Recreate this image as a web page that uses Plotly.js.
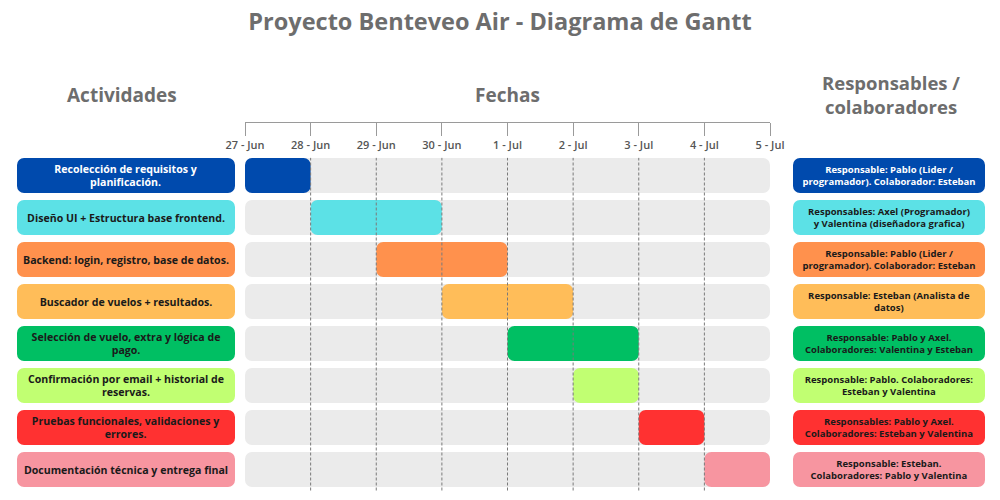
<!DOCTYPE html>
<html>
<head>
<meta charset="utf-8">
<script src="https://cdn.plot.ly/plotly-3.0.1.min.js"></script>
<style>html,body{margin:0;padding:0;background:#fff}#chart{width:1000px;height:500px}</style>
</head>
<body>
<div id="chart"></div>
<script>
// ---- data ----
const tasks = [
  "Recolección de requisitos y<br>planificación.",
  "Diseño UI + Estructura base frontend.",
  "Backend: login, registro, base de datos.",
  "Buscador de vuelos + resultados.",
  "Selección de vuelo, extra y lógica de<br>pago.",
  "Confirmación por email + historial de<br>reservas.",
  "Pruebas funcionales, validaciones y<br>errores.",
  "Documentación técnica y entrega final"
];
const startDates = ["2025-06-27","2025-06-28","2025-06-29","2025-06-30","2025-07-01","2025-07-02","2025-07-03","2025-07-04"];
const endDates   = ["2025-06-28","2025-06-30","2025-07-01","2025-07-02","2025-07-03","2025-07-03","2025-07-04","2025-07-05"];
const responsables = [
  "Responsable: Pablo (Lider /<br>programador). Colaborador: Esteban",
  "Responsables: Axel (Programador)<br>y Valentina (diseñadora grafica)",
  "Responsable: Pablo (Lider /<br>programador). Colaborador: Esteban",
  "Responsable: Esteban (Analista de<br>datos)",
  "Responsable: Pablo y Axel.<br>Colaboradores: Valentina y Esteban",
  "Responsable: Pablo. Colaboradores:<br>Esteban y Valentina",
  "Responsables: Pablo y Axel.<br>Colaboradores: Esteban y Valentina",
  "Responsable: Esteban.<br>Colaboradores: Pablo y Valentina"
];
const tickDates  = ["2025-06-27","2025-06-28","2025-06-29","2025-06-30","2025-07-01","2025-07-02","2025-07-03","2025-07-04","2025-07-05"];
const tickLabels = ["27 - Jun","28 - Jun","29 - Jun","30 - Jun","1 - Jul","2 - Jul","3 - Jul","4 - Jul","5 - Jul"];
const colors = ["#004aad","#5ce1e6","#ff914d","#ffbd59","#00bf63","#c1ff72","#ff3131","#f795a0"];
const textColors = ["#ffffff","#1a1a1a","#1a1a1a","#1a1a1a","#1a1a1a","#1a1a1a","#1a1a1a","#1a1a1a"];

// ---- build ----
const BW = 0.83;
const GRAY = "#ebebeb";
const R = 7;
const FONT = "Open Sans";
const first = tickDates[0], last = tickDates[tickDates.length - 1];
const fullSpan = Date.parse(last) - Date.parse(first);
const monthStarts = tickDates.filter(d => d.endsWith("-01"));

const bgTrace = {
  type: "bar", orientation: "h", xaxis: "x", yaxis: "y",
  y: tasks, base: tasks.map(() => first), x: tasks.map(() => fullSpan),
  width: BW, marker: {color: GRAY, cornerradius: R}, hoverinfo: "skip", showlegend: false
};
const ganttTrace = {
  type: "bar", orientation: "h", xaxis: "x", yaxis: "y",
  y: tasks, base: startDates, x: startDates.map((s, i) => Date.parse(endDates[i]) - Date.parse(s)),
  width: BW, marker: {color: colors, cornerradius: R}, hoverinfo: "skip", showlegend: false
};
const leftTrace = {
  type: "bar", orientation: "h", xaxis: "x2", yaxis: "y",
  y: tasks, base: tasks.map(() => 0), x: tasks.map(() => 1), width: BW,
  marker: {color: colors, cornerradius: R},
  text: tasks, textposition: "inside", insidetextanchor: "middle", textangle: 0,
  constraintext: "none",
  textfont: {family: FONT, size: 10.6, weight: 700, color: textColors},
  hoverinfo: "skip", showlegend: false
};
const rightTrace = {
  type: "bar", orientation: "h", xaxis: "x3", yaxis: "y",
  y: tasks, base: tasks.map(() => 0), x: tasks.map(() => 1), width: BW,
  marker: {color: colors, cornerradius: R},
  text: responsables, textposition: "inside", insidetextanchor: "middle", textangle: 0,
  constraintext: "none",
  textfont: {family: FONT, size: 9.5, weight: 700, color: textColors},
  hoverinfo: "skip", showlegend: false
};

const axisPos = 1 - 122/500;
const dashShapes = tickDates.slice(1, -1).map(d => ({
  type: "line", xref: "x", yref: "y domain", x0: d, x1: d, y0: 0, y1: 0.99,
  line: {color: "#7a7a7a", width: 1, dash: "3px,2px"}, layer: "above"
}));
const HEAD = {family: FONT, size: 19, weight: 700, color: "#6d6d6d"};
const TICKC = "#9a9a9a";

const layout = {
  width: 1000, height: 500,
  margin: {l: 0, r: 0, t: 0, b: 0},
  paper_bgcolor: "#ffffff", plot_bgcolor: "rgba(0,0,0,0)",
  barmode: "overlay",
  font: {family: FONT},
  title: {text: "Proyecto Benteveo Air - Diagrama de Gantt", x: 0.5, xanchor: "center",
          y: 1 - 22/500, yanchor: "middle", yref: "container",
          font: {family: FONT, size: 23.5, weight: 700, color: "#6d6d6d"}},
  xaxis: {type: "date", domain: [0.245, 0.770], range: [first, last],
          anchor: "free", position: axisPos, side: "bottom",
          tickvals: tickDates, ticktext: tickLabels, ticks: "outside", ticklen: 13,
          tickcolor: TICKC, tickwidth: 1, showline: true, linecolor: TICKC, linewidth: 1,
          showgrid: false, zeroline: false, fixedrange: true,
          tickfont: {family: FONT, size: 11, weight: 600, color: "#555555"}},
  xaxis4: {type: "date", domain: [0.245, 0.770], range: [first, last], overlaying: "x",
           anchor: "free", position: axisPos, side: "top",
           tickvals: tickDates, ticks: "outside", ticklen: 6, tickcolor: TICKC,
           showticklabels: false, showline: false, showgrid: false, zeroline: false},
  xaxis5: {type: "date", domain: [0.245, 0.770], range: [first, last], overlaying: "x",
           anchor: "free", position: axisPos, side: "top",
           tickvals: monthStarts, ticks: "outside", ticklen: 10, tickcolor: TICKC,
           showticklabels: false, showline: false, showgrid: false, zeroline: false},
  xaxis2: {domain: [0.017, 0.235], range: [0, 1], visible: false, anchor: "y", fixedrange: true},
  xaxis3: {domain: [0.793, 0.985], range: [0, 1], visible: false, anchor: "y", fixedrange: true},
  yaxis: {domain: [1 - 490.5/500, 1 - 154.5/500], autorange: "reversed", visible: false,
          type: "category", fixedrange: true},
  shapes: dashShapes,
  annotations: [
    {text: "Actividades", xref: "paper", yref: "paper", x: 0.122, y: 1 - 95/500,
     showarrow: false, xanchor: "center", yanchor: "middle", font: HEAD},
    {text: "Fechas", xref: "paper", yref: "paper", x: 0.5075, y: 1 - 95/500,
     showarrow: false, xanchor: "center", yanchor: "middle", font: HEAD},
    {text: "Responsables /<br>colaboradores", xref: "paper", yref: "paper", x: 0.891, y: 1 - 94.5/500,
     showarrow: false, xanchor: "center", yanchor: "middle",
     font: {family: FONT, size: 18.5, weight: 700, color: "#6d6d6d"}}
  ]
};

Plotly.newPlot("chart", [bgTrace, ganttTrace, leftTrace, rightTrace], layout,
  {displayModeBar: false, staticPlot: true});
</script>
</body>
</html>
